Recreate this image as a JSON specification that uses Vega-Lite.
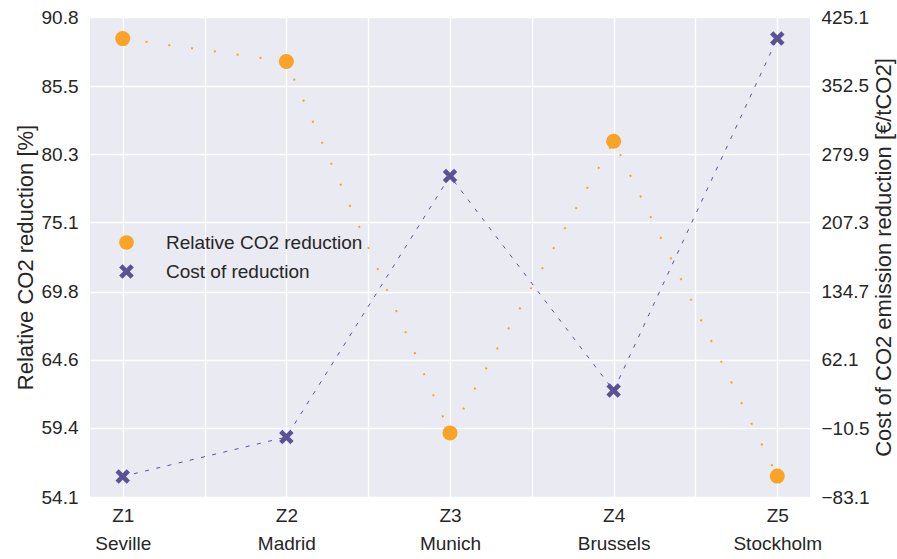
{
  "$schema": "https://vega.github.io/schema/vega-lite/v6.json",
  "autosize": {"type": "none"},
  "width": 720,
  "height": 480,
  "padding": {"left": 90, "top": 17, "right": 87, "bottom": 62},
  "background": "white",
  "config": {
    "view": {"fill": "#EAEAF2", "stroke": null},
    "axis": {
      "domain": false,
      "ticks": false,
      "gridColor": "white",
      "gridWidth": 1.3,
      "gridOpacity": 1,
      "labelFont": "Liberation Sans",
      "labelFontSize": 19,
      "labelColor": "#262626",
      "titleFont": "Liberation Sans",
      "titleFontSize": 22,
      "titleFontWeight": "normal",
      "titleColor": "#262626"
    },
    "legend": {
      "labelFont": "Liberation Sans",
      "labelFontSize": 19,
      "labelColor": "#262626",
      "labelLimit": 0
    }
  },
  "data": {
    "values": [
      {"idx": 1, "zone": "Z1", "city": "Seville", "rel": 89.15, "cost": -61.3},
      {"idx": 2, "zone": "Z2", "city": "Madrid", "rel": 87.4, "cost": -19.6},
      {"idx": 3, "zone": "Z3", "city": "Munich", "rel": 59.0, "cost": 256.7},
      {"idx": 4, "zone": "Z4", "city": "Brussels", "rel": 81.3, "cost": 29.6},
      {"idx": 5, "zone": "Z5", "city": "Stockholm", "rel": 55.7, "cost": 402.3}
    ]
  },
  "encoding": {
    "x": {
      "field": "idx",
      "type": "quantitative",
      "scale": {"domain": [0.8, 5.2], "nice": false, "zero": false},
      "axis": {
        "title": null,
        "values": [1, 1.5, 2, 2.5, 3, 3.5, 4, 4.5, 5],
        "labelExpr": "datum.value % 1 == 0 ? ['Z' + datum.value, ['Seville','Madrid','Munich','Brussels','Stockholm'][datum.value - 1]] : ''",
        "labelPadding": 9,
        "labelLineHeight": 28,
        "labelBaseline": "top"
      }
    }
  },
  "layer": [
    {
      "encoding": {
        "y": {
          "field": "rel",
          "type": "quantitative",
          "scale": {"domain": [54.1, 90.8], "nice": false, "zero": false},
          "axis": {
            "orient": "left",
            "title": "Relative CO2 reduction [%]",
            "values": [54.1, 59.4, 64.6, 69.8, 75.1, 80.3, 85.5, 90.8],
            "format": ".1f",
            "labelPadding": 12,
            "titlePadding": 4
          }
        }
      },
      "layer": [
        {
          "mark": {"type": "line", "color": "#F9A327", "strokeWidth": 2, "strokeDash": [2, 21]},
          "encoding": {}
        },
        {
          "mark": {"type": "point", "filled": true, "opacity": 1, "size": 225},
          "encoding": {
            "color": {
              "datum": "Relative CO2 reduction",
              "type": "nominal",
              "scale": {"domain": ["Relative CO2 reduction", "Cost of reduction"], "range": ["#F9A327", "#5B5197"]},
              "legend": {
                "title": null,
                "orient": "none",
                "legendX": 27,
                "legendY": 216,
                "symbolSize": 215,
                "symbolOpacity": 1,
                "labelOffset": 30,
                "rowPadding": 9,
                "padding": 0
              }
            },
            "shape": {
              "datum": "Relative CO2 reduction",
              "type": "nominal",
              "scale": {"domain": ["Relative CO2 reduction", "Cost of reduction"], "range": ["circle", "M-0.55,-1L0,-0.45L0.55,-1L1,-0.55L0.45,0L1,0.55L0.55,1L0,0.45L-0.55,1L-1,0.55L-0.45,0L-1,-0.55Z"]}
            }
          }
        }
      ]
    },
    {
      "encoding": {
        "y": {
          "field": "cost",
          "type": "quantitative",
          "scale": {"domain": [-83.1, 425.1], "nice": false, "zero": false},
          "axis": {
            "orient": "right",
            "title": "Cost of CO2 emission reduction [€/tCO2]",
            "titleAngle": 270,
            "titleBaseline": "top",
            "values": [-83.1, -10.5, 62.1, 134.7, 207.3, 279.9, 352.5, 425.1],
            "format": ".1f",
            "grid": false,
            "labelPadding": 11,
            "titlePadding": 4
          }
        }
      },
      "layer": [
        {
          "mark": {"type": "line", "color": "#5B5197", "strokeWidth": 1, "strokeDash": [4, 7.5]},
          "encoding": {}
        },
        {
          "mark": {"type": "point", "filled": true, "opacity": 1, "size": 210},
          "encoding": {
            "color": {"datum": "Cost of reduction", "type": "nominal"},
            "shape": {"datum": "Cost of reduction", "type": "nominal"}
          }
        }
      ]
    }
  ],
  "resolve": {"scale": {"y": "independent"}, "axis": {"y": "independent"}}
}
